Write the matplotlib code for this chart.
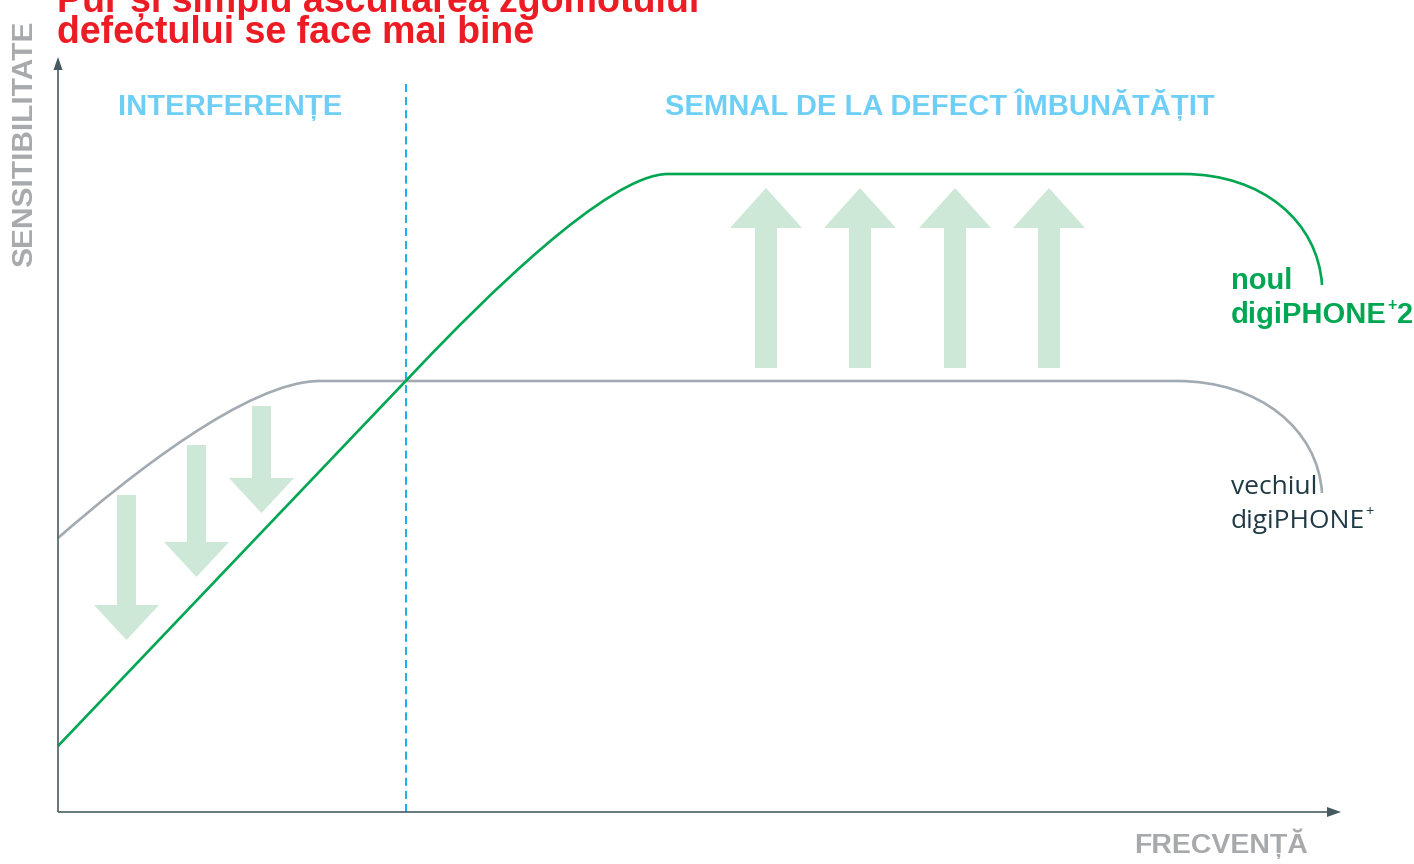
import matplotlib
matplotlib.use('Agg')
import matplotlib.pyplot as plt
from matplotlib.path import Path
from matplotlib.patches import PathPatch, FancyArrow

# ---- chart data (units: frequency / sensitivity, origin at axes corner) ----

# new device: rises linearly, saturates, then rolls off at high frequency
new_pts = [(0, 66), (362, 446),
           (422, 509), (550, 638), (610, 638),
           (1125, 638),
           (1205, 638), (1260, 590), (1264, 527)]
new_codes = [Path.MOVETO, Path.LINETO,
             Path.CURVE4, Path.CURVE4, Path.CURVE4,
             Path.LINETO,
             Path.CURVE4, Path.CURVE4, Path.CURVE4]

# old device: high sensitivity at low freq (noise), lower plateau
old_pts = [(0, 274),
           (70, 335), (190, 431), (262, 431),
           (1119, 431),
           (1201, 431), (1260, 383), (1264, 319)]
old_codes = [Path.MOVETO,
             Path.CURVE4, Path.CURVE4, Path.CURVE4,
             Path.LINETO,
             Path.CURVE4, Path.CURVE4, Path.CURVE4]

crossover_x = 348

# decorative arrows
up_x = [708, 802, 897, 991]
up_base = 444
up_tip = 624
down_x = [68.5, 138.5, 203.5]
down_top = [317, 367, 406]
down_tip = [172, 235, 299]

x_end = 1283
y_end = 755

# ---- colours ----
green = '#00a651'
grey_line = '#a2aab2'
axis_col = '#45595f'
blue_dash = '#1fb0ea'
blue_txt = '#6dcff6'
arrow_fill = '#cde8d6'
red = '#ed1c24'
label_grey = '#a7a9ac'
dark_txt = '#1f3a45'

bold_font = ['Liberation Sans', 'DejaVu Sans']
light_font = ['Open Sans', 'DejaVu Sans']

fig = plt.figure(figsize=(14.14, 8.64), dpi=100)
ax = fig.add_axes([0, 0, 1, 1])
ax.set_xlim(-58, 1356)
ax.set_ylim(-52, 812)
ax.axis('off')

# arrows (background)
for x in up_x:
    ax.add_patch(FancyArrow(x, up_base, 0, up_tip - up_base, width=22,
                            head_width=72, head_length=40,
                            length_includes_head=True, color=arrow_fill, lw=0, zorder=1))
for x, t, b in zip(down_x, down_top, down_tip):
    ax.add_patch(FancyArrow(x, t, 0, b - t, width=19,
                            head_width=65, head_length=35,
                            length_includes_head=True, color=arrow_fill, lw=0, zorder=1))

# curves
ax.add_patch(PathPatch(Path(old_pts, old_codes), fill=False, ec=grey_line, lw=1.9,
                       capstyle='butt', zorder=3))
ax.add_patch(PathPatch(Path(new_pts, new_codes), fill=False, ec=green, lw=1.9,
                       capstyle='butt', zorder=4))

# crossover dashed line
ax.plot([crossover_x, crossover_x], [0, 730], color=blue_dash, lw=1.45,
        dashes=(4, 2.5), zorder=2)

# axes with arrow heads
ax.add_patch(FancyArrow(0, 0, x_end, 0, width=1.6, head_width=10, head_length=14,
                        length_includes_head=True, color=axis_col, lw=0, zorder=5))
ax.add_patch(FancyArrow(0, 0, 0, y_end, width=1.6, head_width=9, head_length=13,
                        length_includes_head=True, color=axis_col, lw=0, zorder=5))

# texts
ax.text(-1, 801, 'Pur și simplu ascultarea zgomotului', color=red, fontsize=27,
        fontweight='bold', family=bold_font, va='baseline', ha='left')
ax.text(-1, 769, 'defectului se face mai bine', color=red, fontsize=27,
        fontweight='bold', family=bold_font, va='baseline', ha='left')

ax.text(60, 697, 'INTERFERENȚE', color=blue_txt, fontsize=21, fontweight='bold',
        family=bold_font, va='baseline', ha='left')
ax.text(607, 697, 'SEMNAL DE LA DEFECT ÎMBUNĂTĂȚIT', color=blue_txt, fontsize=21,
        fontweight='bold', family=bold_font, va='baseline', ha='left')

ax.text(1250, -41, 'FRECVENȚĂ', color=label_grey, fontsize=20.5, fontweight='bold',
        family=bold_font, va='baseline', ha='right')
ax.text(-34, 668.5, 'SENSITIBILITATE', color=label_grey, fontsize=21.5,
        fontweight='bold', family=bold_font, rotation=90, va='center', ha='center')


def sup_label(x, y, base, after, size, color, fam, weight):
    # base text, small raised '+', then optional trailing text
    r = fig.canvas.get_renderer()
    inv = ax.transData.inverted()
    t = ax.text(x, y, base, color=color, fontsize=size, fontweight=weight,
                family=fam, va='baseline', ha='left')
    x1 = inv.transform((t.get_window_extent(r).x1, 0))[0]
    p = ax.text(x1 + 0.5, y + size * 0.62, '+', color=color, fontsize=size * 0.55,
                fontweight=weight, family=fam, va='baseline', ha='left')
    if after:
        x2 = inv.transform((p.get_window_extent(r).x1, 0))[0]
        ax.text(x2 + 0.5, y, after, color=color, fontsize=size, fontweight=weight,
                family=fam, va='baseline', ha='left')


ax.text(1173, 523, 'noul', color=green, fontsize=21, fontweight='bold',
        family=bold_font, va='baseline', ha='left')
sup_label(1173, 489, 'digiPHONE', '2', 21, green, bold_font, 'bold')

ax.text(1173, 318, 'vechiul', color=dark_txt, fontsize=19,
        family=light_font, va='baseline', ha='left')
sup_label(1173, 284, 'digiPHONE', '', 19, dark_txt, light_font, 'normal')

fig.savefig('out.png', dpi=100)
